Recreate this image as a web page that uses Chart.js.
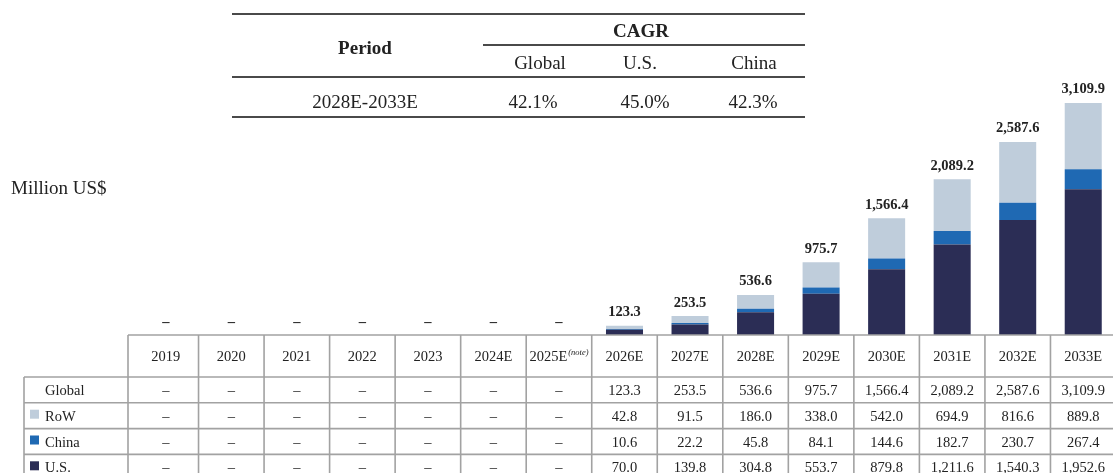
<!DOCTYPE html>
<html>
<head>
<meta charset="utf-8">
<script src="https://cdn.jsdelivr.net/npm/chart.js@4.4.1/dist/chart.umd.min.js"></script>
<style>
html,body{margin:0;padding:0;background:#fff;overflow:hidden;width:1113px;height:473px}
#wrap{position:absolute;left:0;top:0;width:1125px;height:473px}
</style>
</head>
<body>
<div id="wrap"><canvas id="c" width="1125" height="473"></canvas></div>
<script>
// ---- data ----
const categories = ['2019','2020','2021','2022','2023','2024E','2025E','2026E','2027E','2028E','2029E','2030E','2031E','2032E','2033E'];
const noteCategory = '2025E';
const noteText = '(note)';
const usValues    = [null,null,null,null,null,null,null,70.0,139.8,304.8,553.7,879.8,1211.6,1540.3,1952.6];
const chinaValues = [null,null,null,null,null,null,null,10.6,22.2,45.8,84.1,144.6,182.7,230.7,267.4];
const rowValues   = [null,null,null,null,null,null,null,42.8,91.5,186.0,338.0,542.0,694.9,816.6,889.8];
const globalValues= [null,null,null,null,null,null,null,123.3,253.5,536.6,975.7,1566.4,2089.2,2587.6,3109.9];
const rowLabels = ['Global','RoW','China','U.S.'];
const unitLabel = 'Million US$';
const cagrPeriodHeader = 'Period';
const cagrHeader = 'CAGR';
const cagrColumns = ['Global','U.S.','China'];
const cagrPeriod = '2028E-2033E';
const cagrValues = ['42.1%','45.0%','42.3%'];

// ---- styles ----
const COLORS = { RoW:'#bfcddb', China:'#1f69b3', US:'#2b2d55' };
const SERIF = '"Liberation Serif","Times New Roman",serif';
const TEXT = '#222222';
const GRID = '#a2a2a2';

const fmt = v => v == null ? '\u2013' : v.toLocaleString('en-US',{minimumFractionDigits:1,maximumFractionDigits:1});

const overlay = {
  id:'overlay',
  afterDraw(chart){
    const ctx = chart.ctx;
    const xs = chart.scales.x, ys = chart.scales.y;
    const n = categories.length;
    const centers = categories.map((c,i)=>xs.getPixelForValue(i));
    const step = centers[1]-centers[0];
    ctx.save();

    // value labels above bars
    ctx.fillStyle = TEXT;
    ctx.textAlign = 'center';
    ctx.textBaseline = 'alphabetic';
    ctx.font = 'bold 14.5px ' + SERIF;
    for(let i=0;i<n;i++){
      const sum = (usValues[i]||0)+(chinaValues[i]||0)+(rowValues[i]||0);
      const top = ys.getPixelForValue(sum);
      ctx.fillText(fmt(globalValues[i]), centers[i], top - 9.5);
    }

    // data table
    const tableTop = ys.getPixelForValue(0);
    const headBottom = tableTop + 42;
    const rowH = 25.8;
    const labelLeft = 24, firstLeft = 128;
    const bounds = [firstLeft];
    for(let i=1;i<n;i++) bounds.push((centers[i-1]+centers[i])/2);
    const rightEnd = centers[n-1] + step/2 + 5;

    ctx.strokeStyle = GRID;
    ctx.lineWidth = 1.6;
    ctx.beginPath();
    ctx.moveTo(firstLeft, tableTop); ctx.lineTo(rightEnd, tableTop);
    for(let r=0;r<=rowLabels.length;r++){
      const y = headBottom + r*rowH;
      ctx.moveTo(labelLeft, y); ctx.lineTo(rightEnd, y);
    }
    for(const b of bounds){ ctx.moveTo(b, tableTop); ctx.lineTo(b, 480); }
    ctx.moveTo(labelLeft, headBottom); ctx.lineTo(labelLeft, 480);
    ctx.stroke();

    // header
    ctx.fillStyle = TEXT;
    ctx.font = '14.5px ' + SERIF;
    const hb = (tableTop+headBottom)/2 + 5;
    for(let i=0;i<n;i++){
      if(categories[i] === noteCategory){
        ctx.font = '14.5px ' + SERIF;
        const w1 = ctx.measureText(categories[i]).width;
        ctx.font = 'italic 8.5px ' + SERIF;
        const w2 = ctx.measureText(noteText).width;
        const start = centers[i] - (w1+w2+1)/2;
        ctx.textAlign = 'left';
        ctx.font = '14.5px ' + SERIF;
        ctx.fillText(categories[i], start, hb);
        ctx.font = 'italic 8.5px ' + SERIF;
        ctx.fillText(noteText, start + w1 + 1, hb - 6);
        ctx.textAlign = 'center';
        ctx.font = '14.5px ' + SERIF;
      } else {
        ctx.fillText(categories[i], centers[i], hb);
      }
    }

    // rows
    const rows = [
      {label:rowLabels[0], vals:globalValues, color:null},
      {label:rowLabels[1], vals:rowValues, color:COLORS.RoW},
      {label:rowLabels[2], vals:chinaValues, color:COLORS.China},
      {label:rowLabels[3], vals:usValues, color:COLORS.US}
    ];
    rows.forEach((row,r)=>{
      const cy = headBottom + r*rowH + rowH/2;
      if(row.color){
        ctx.fillStyle = row.color;
        ctx.fillRect(30, cy-6, 9, 9);
      }
      ctx.fillStyle = TEXT;
      ctx.textAlign = 'left';
      ctx.fillText(row.label, 45, cy+5);
      ctx.textAlign = 'center';
      for(let i=0;i<n;i++) ctx.fillText(fmt(row.vals[i]), centers[i], cy+5);
    });

    // unit label
    ctx.textAlign = 'left';
    ctx.font = '19px ' + SERIF;
    ctx.fillText(unitLabel, 11, 194);

    // CAGR table
    ctx.strokeStyle = '#4a4a4a';
    ctx.lineWidth = 2;
    ctx.beginPath();
    ctx.moveTo(232,14); ctx.lineTo(805,14);
    ctx.moveTo(483,45); ctx.lineTo(805,45);
    ctx.moveTo(232,77); ctx.lineTo(805,77);
    ctx.moveTo(232,117); ctx.lineTo(805,117);
    ctx.stroke();
    ctx.textAlign = 'center';
    ctx.font = 'bold 19px ' + SERIF;
    ctx.fillText(cagrPeriodHeader, 365, 54);
    ctx.fillText(cagrHeader, 641, 37);
    ctx.font = '19px ' + SERIF;
    const cx = [540, 640, 754];
    const vx = [533, 645, 753];
    cagrColumns.forEach((c,i)=>ctx.fillText(c, cx[i], 69));
    ctx.fillText(cagrPeriod, 365, 108);
    cagrValues.forEach((v,i)=>ctx.fillText(v, vx[i], 108));
    ctx.restore();
  }
};

new Chart(document.getElementById('c'), {
  type:'bar',
  data:{
    labels: categories,
    datasets:[
      {label:'U.S.', data:usValues, backgroundColor:COLORS.US},
      {label:'China', data:chinaValues, backgroundColor:COLORS.China},
      {label:'RoW', data:rowValues, backgroundColor:COLORS.RoW}
    ]
  },
  options:{
    responsive:false,
    animation:false,
    events:[],
    datasets:{bar:{barPercentage:0.565, categoryPercentage:1.0, borderWidth:0}},
    layout:{padding:{left:133, right:9, top:67.9, bottom:138}},
    plugins:{legend:{display:false}, tooltip:{enabled:false}, title:{display:false}},
    scales:{
      x:{display:false, stacked:true, offset:true, grid:{display:false}},
      y:{display:false, stacked:true, min:0, max:3580, grid:{display:false}}
    }
  },
  plugins:[overlay]
});
</script>
</body>
</html>
